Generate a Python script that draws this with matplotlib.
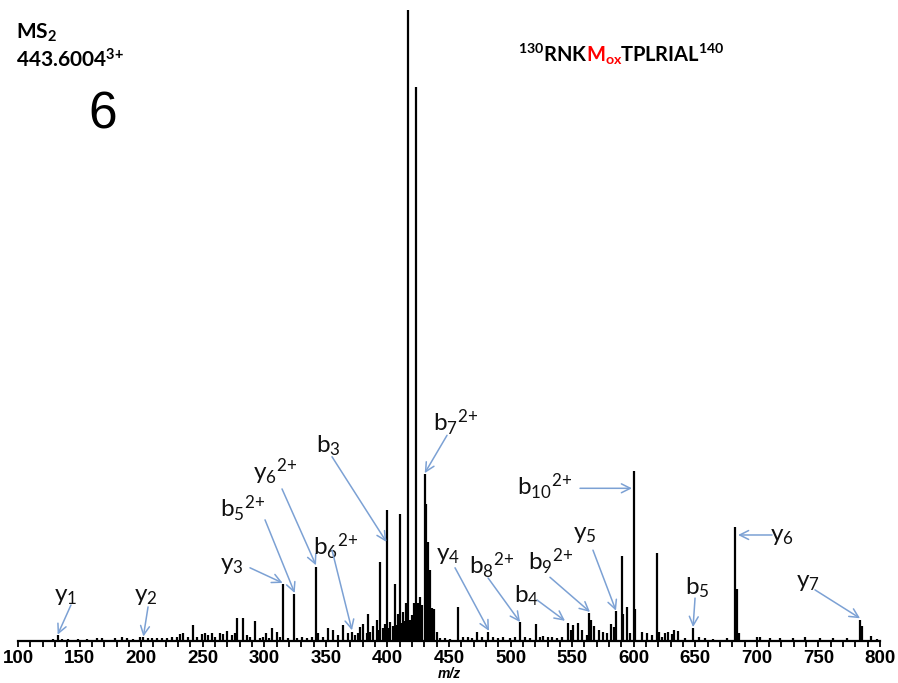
import numpy as np
import matplotlib
matplotlib.use('Agg')
import matplotlib.pyplot as plt

plt.rcParams['font.family'] = ['Lato', 'DejaVu Sans']

# spectrum peaks (m/z, relative intensity)
peak_mz = [128.7, 132.2, 135.5, 140.9, 149.0, 155.8, 163.9, 168.0, 178.8, 184.2,
           188.3, 193.6, 199.1, 201.8, 205.8, 208.6, 212.6, 216.7, 220.8, 224.8,
           228.9, 231.6, 234.2, 238.3, 242.4, 245.1, 249.2, 251.9, 254.5, 257.3,
           260.0, 264.0, 266.7, 269.5, 273.5, 276.2, 278.1, 283.0, 286.2, 288.4,
           292.5, 296.5, 299.2, 301.4, 304.1, 306.0, 310.1, 312.8, 315.4, 319.5,
           324.4, 326.3, 330.4, 334.4, 338.5, 342.0, 343.9, 347.9, 352.0, 356.0,
           360.1, 364.2, 368.2, 371.0, 373.7, 376.4, 377.7, 380.4, 383.2, 384.5,
           385.9, 388.5, 391.3, 392.6, 394.0, 396.7, 398.0, 399.7, 400.7, 402.1,
           404.8, 406.2, 407.5, 408.8, 410.6, 411.6, 412.9, 414.3, 414.8, 416.7,
           418.3, 419.7, 421.2, 422.4, 423.2, 425.1, 426.5, 427.8, 430.3, 431.6,
           433.0, 434.3, 436.0, 437.8, 440.0, 442.7, 446.8, 450.8, 457.6, 461.6,
           465.7, 468.4, 472.5, 476.6, 481.9, 486.0, 490.0, 494.1, 499.5, 503.6,
           507.7, 511.7, 515.8, 520.4, 523.9, 526.6, 530.6, 533.4, 537.5, 541.5,
           546.4, 549.1, 550.9, 554.5, 558.2, 561.8, 563.7, 565.1, 568.0, 571.8,
           575.3, 578.1, 581.3, 584.0, 586.0, 590.1, 591.5, 594.8, 597.0, 600.2,
           601.3, 606.5, 610.5, 614.6, 619.3, 620.3, 622.7, 625.4, 628.1, 630.8,
           632.7, 636.2, 641.6, 647.9, 653.3, 657.9, 664.6, 675.5, 682.5, 684.1,
           685.5, 699.9, 702.6, 710.7, 718.8, 729.6, 739.1, 751.3, 762.1, 773.0,
           784.0, 785.1, 792.5, 797.3]
peak_int = [0.3, 0.9, 0.3, 0.3, 0.3, 0.3, 0.5, 0.5, 0.4, 0.6,
            0.4, 0.3, 0.7, 0.6, 0.4, 0.5, 0.4, 0.5, 0.4, 0.6,
            0.6, 1.1, 1.2, 0.7, 2.6, 0.7, 1.1, 1.3, 0.9, 1.2,
            0.7, 1.3, 1.1, 1.6, 0.9, 1.2, 3.6, 3.6, 0.9, 0.7,
            3.2, 0.5, 0.7, 1.3, 0.4, 2.0, 1.4, 0.7, 9.0, 0.5,
            7.5, 0.4, 0.7, 0.4, 0.6, 11.8, 1.3, 0.7, 2.1, 1.8,
            0.9, 2.5, 1.2, 1.4, 0.9, 1.3, 2.2, 2.7, 1.2, 4.2,
            1.5, 2.3, 3.3, 1.7, 12.5, 2.0, 2.7, 20.8, 2.0, 3.0,
            2.3, 9.1, 2.6, 4.3, 20.1, 2.8, 4.6, 3.1, 6.0, 100.0,
            3.4, 4.1, 6.0, 3.9, 87.8, 6.0, 7.0, 5.7, 26.5, 21.7,
            15.7, 11.3, 5.2, 5.0, 1.5, 0.4, 0.5, 0.3, 5.4, 0.7,
            0.6, 0.4, 1.4, 0.7, 1.4, 0.7, 0.5, 0.6, 0.5, 0.6,
            3.0, 0.7, 0.4, 2.7, 0.7, 0.8, 0.6, 0.7, 0.5, 0.7,
            2.9, 1.7, 2.5, 2.9, 1.8, 1.0, 4.5, 3.3, 2.3, 1.7,
            1.4, 1.2, 2.7, 2.2, 4.8, 13.4, 4.3, 5.4, 1.3, 26.9,
            5.0, 1.4, 1.2, 0.9, 14.0, 1.4, 0.7, 1.3, 1.4, 1.1,
            1.8, 1.6, 0.4, 2.0, 0.6, 0.4, 0.3, 0.4, 18.0, 8.2,
            1.3, 0.7, 0.6, 0.4, 0.4, 0.4, 0.7, 0.5, 0.5, 0.4,
            3.4, 2.3, 0.8, 0.3]

# fragment ion labels and the peak each one points to
ion_labels = [r'y$\mathregular{_1}$', r'y$\mathregular{_2}$', r'y$\mathregular{_3}$',
              r'b$\mathregular{_5{}^{2\!+}}$', r'y$\mathregular{_6{}^{2\!+}}$',
              r'b$\mathregular{_6{}^{2\!+}}$', r'b$\mathregular{_3}$',
              r'b$\mathregular{_7{}^{2\!+}}$', r'b$\mathregular{_{10}{}^{2\!+}}$',
              r'y$\mathregular{_4}$', r'b$\mathregular{_8{}^{2\!+}}$', r'b$\mathregular{_4}$',
              r'b$\mathregular{_9{}^{2\!+}}$', r'y$\mathregular{_5}$', r'y$\mathregular{_6}$',
              r'b$\mathregular{_5}$', r'y$\mathregular{_7}$']
ion_mz = [132.2, 201.8, 315.4, 324.4, 342.0, 371.0, 399.7, 430.3, 600.2,
          481.9, 507.7, 546.4, 563.7, 586.0, 682.5, 647.9, 784.0]

# layout: label centre, arrow start, arrow tip offset from the peak top
label_xy = [(139.0, 7.0), (204.0, 7.0), (273.8, 11.9), (282.7, 20.9), (308.7, 26.8),
            (358.2, 14.9), (351.7, 30.9), (455.7, 34.5), (528.0, 24.4), (449.2, 13.6),
            (484.9, 11.9), (513.3, 7.1), (532.8, 12.5), (560.4, 16.8), (720.4, 16.6),
            (651.4, 8.4), (741.5, 9.2)]
arrow_from = [(143.0, 5.7), (205.6, 5.4), (288.4, 11.6), (300.6, 19.2), (314.4, 24.1),
              (355.0, 14.4), (355.0, 29.2), (448.4, 32.6), (556.4, 24.2), (454.9, 11.6),
              (481.7, 10.0), (521.5, 6.5), (532.0, 10.1), (566.9, 14.4), (712.3, 16.8),
              (649.8, 6.8), (747.2, 8.1)]
tip_off = [(0, 0.1), (0, 0.1), (-0.5, 0.2), (0.3, 0.1), (0, 0.2), (0.2, 0.3),
           (-0.5, -5.1), (0, 0.1), (-1.6, -2.7), (0.6, 0.2), (0, 0.0), (-2.2, 0.3),
           (0.8, 0.1), (-0.4, 0.0), (2.2, -1.2), (0.3, 0.2), (-0.2, 0.2)]

W, H = 898, 683
fig = plt.figure(figsize=(W / 100, H / 100), dpi=100)
ax = fig.add_axes([18 / W, 42 / H, 862 / W, 631 / H])

ax.vlines(peak_mz, 0, peak_int, color='black', lw=1.6)
ax.set_xlim(100, 800)
ax.set_ylim(0, 100)

for s in ['left', 'top', 'right']:
    ax.spines[s].set_visible(False)
ax.spines['bottom'].set_linewidth(1.6)
ax.set_yticks([])
ax.set_xticks(np.arange(100, 801, 50))
ax.set_xticks(np.arange(100, 801, 10), minor=True)
ax.tick_params(axis='x', which='both', direction='out', length=4.5, width=1.3, pad=2)
ax.tick_params(axis='x', which='major', labelsize=13.5)
for lab in ax.get_xticklabels():
    lab.set_fontfamily('Liberation Sans')
    lab.set_fontweight('bold')
ax.set_xlabel('m/z', fontfamily='Liberation Sans', fontstyle='italic',
              fontweight='bold', fontsize=10, labelpad=0)

# ion annotations
pk_mz = np.array(peak_mz)
pk_int = np.array(peak_int)
for lab, mz, lxy, axy, off in zip(ion_labels, ion_mz, label_xy, arrow_from, tip_off):
    h = pk_int[np.argmin(np.abs(pk_mz - mz))]
    ax.text(lxy[0], lxy[1], lab, fontsize=17.5, ha='center', va='center', color='#111111')
    ax.annotate('', xy=(mz + off[0], h + off[1]), xytext=axy,
                arrowprops=dict(arrowstyle='->', color='#7ca1d4', lw=1.1,
                                shrinkA=0, shrinkB=0, mutation_scale=16))

# header texts
fig.text(16 / W, 1 - 39 / H, r'MS$\mathregular{_2}$', fontsize=15, fontweight='bold',
         va='baseline')
fig.text(16 / W, 1 - 67 / H, r'443.6004$\mathregular{^{3\!+}}$', fontsize=15,
         fontweight='bold', va='baseline')
fig.text(103 / W, 1 - 115 / H, '6', fontsize=37, fontfamily='Liberation Sans',
         ha='center', va='center')

title_parts = [(r'$\mathregular{^{130}}$RNK', 'black'),
               (r'M$\mathregular{_{ox}}$', '#ff0000'),
               (r'TPLRIAL$\mathregular{^{140}}$', 'black')]
r = fig.canvas.get_renderer()
x0 = 518
for s, c in title_parts:
    t = fig.text(x0 / W, 1 - 62 / H, s, color=c, fontsize=14.5, fontweight='bold',
                 va='baseline', ha='left')
    x0 += t.get_window_extent(renderer=r).width - 2

fig.savefig('out.png', dpi=100)
